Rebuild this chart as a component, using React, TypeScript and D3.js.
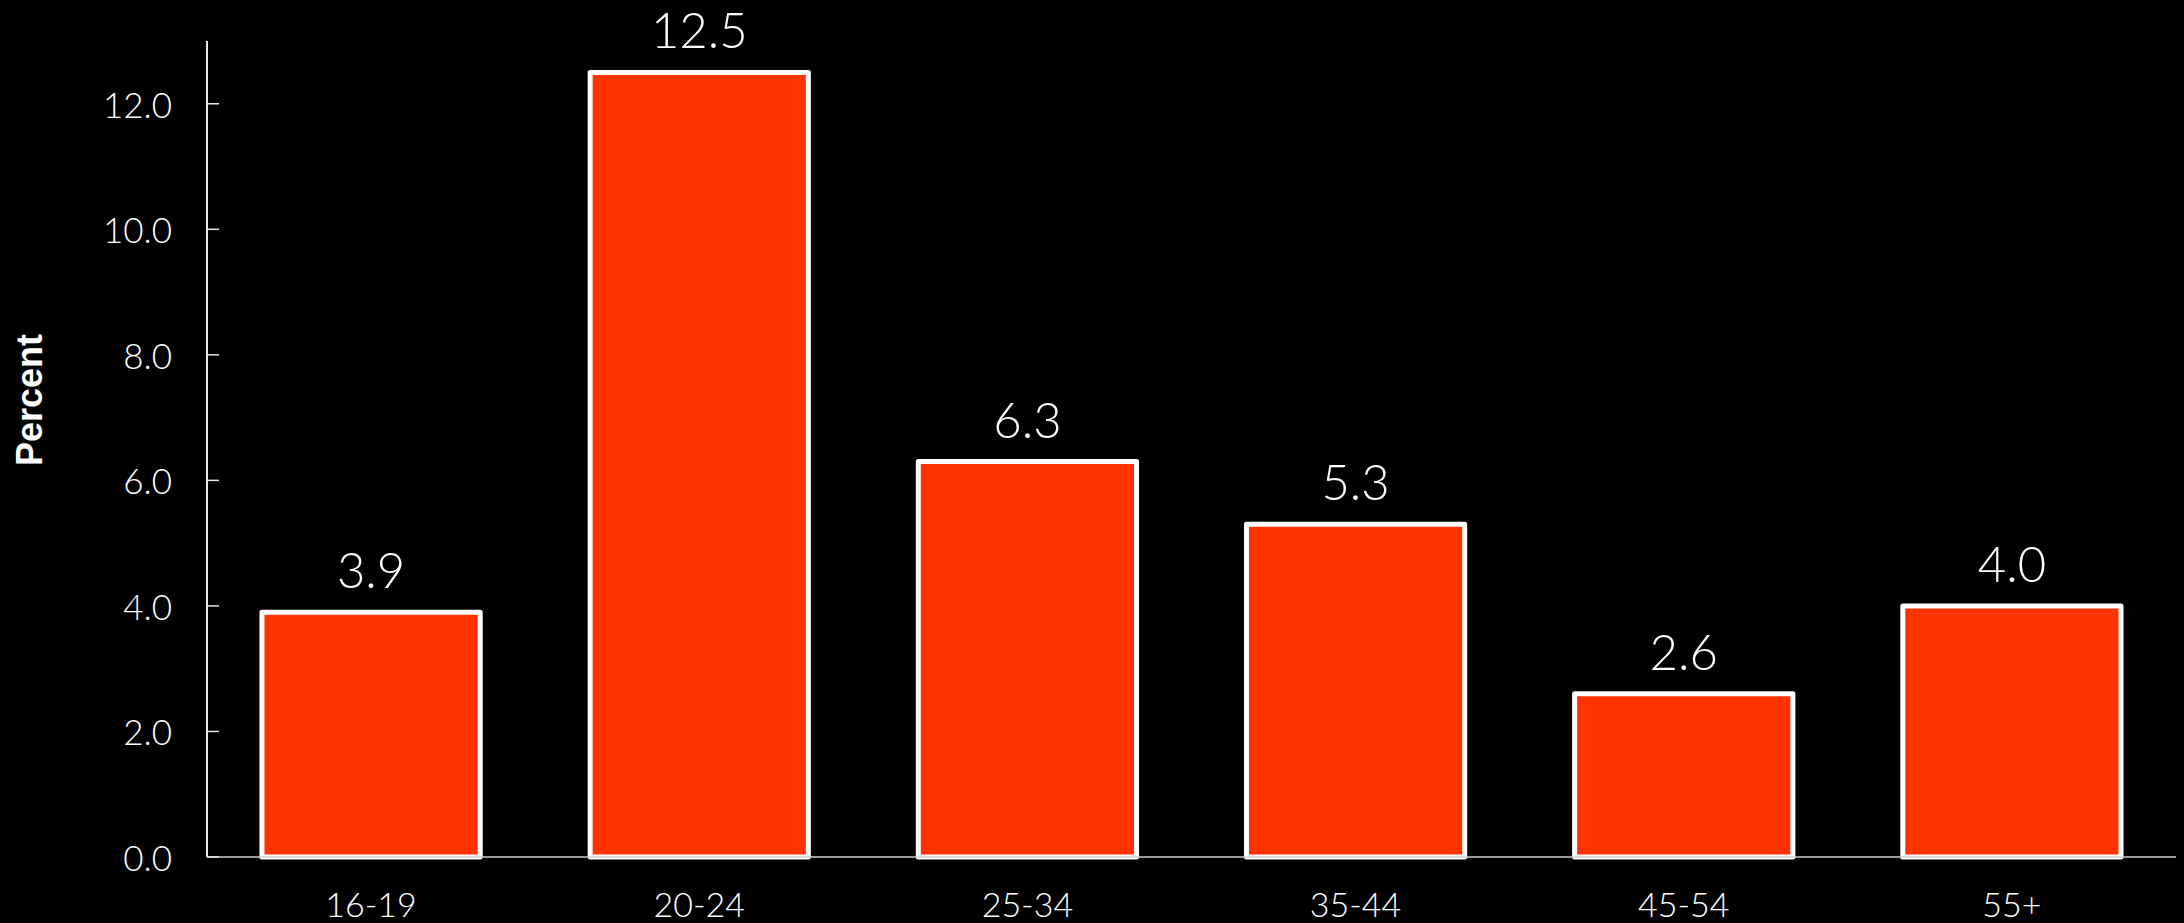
import React from "react";
import * as d3 from "d3";

const categories = ["16-19", "20-24", "25-34", "35-44", "45-54", "55+"];
const values = [3.9, 12.5, 6.3, 5.3, 2.6, 4.0];
const yTicks = [0, 2, 4, 6, 8, 10, 12];
const yLabel = "Percent";

const W = 2184;
const H = 923;
const FONT = "Lato, 'Open Sans', sans-serif";

export default function App() {
  const x = d3
    .scaleBand<string>()
    .domain(categories)
    .range([207, 2176])
    .paddingInner(0.335)
    .paddingOuter(0.1675);
  const y = d3.scaleLinear().domain([0, 13]).range([857, 41]);
  const bw = x.bandwidth();

  return (
    <svg
      width={W}
      height={H}
      style={{ position: "absolute", left: 0, top: 0, display: "block" }}
    >
      <rect x={0} y={0} width={W} height={H} fill="#000" />
      {/* bars */}
      {categories.map((c, i) => (
        <rect
          key={c}
          x={x(c)!}
          y={y(values[i])}
          width={bw}
          height={y(0) - y(values[i])}
          fill="#FF3300"
          stroke="#fff"
          strokeWidth={5}
          strokeLinejoin="round"
        />
      ))}
      {/* x axis line */}
      <line x1={207} x2={2176} y1={y(0)} y2={y(0)} stroke="#cfcfcf" strokeWidth={1.5} />
      {/* y axis */}
      <line x1={207} x2={207} y1={y(13)} y2={y(0)} stroke="#e8e8e8" strokeWidth={2} />
      {yTicks.map((t) => (
        <g key={t}>
          <line x1={207} x2={219} y1={y(t)} y2={y(t)} stroke="#e8e8e8" strokeWidth={1.5} />
          <text
            x={172}
            y={y(t)}
            textAnchor="end"
            dominantBaseline="central"
            fill="#fff"
            fontFamily={FONT}
            fontWeight={300}
            fontSize={35}
          >
            {d3.format(".1f")(t)}
          </text>
        </g>
      ))}
      {/* value labels */}
      {categories.map((c, i) => (
        <text
          key={"v" + c}
          x={x(c)! + bw / 2}
          y={y(values[i]) - 24}
          textAnchor="middle"
          fill="#fff"
          fontFamily={FONT}
          fontWeight={300}
          fontSize={49}
        >
          {d3.format(".1f")(values[i])}
        </text>
      ))}
      {/* category labels */}
      {categories.map((c) => (
        <text
          key={"c" + c}
          x={x(c)! + bw / 2}
          y={917}
          textAnchor="middle"
          fill="#fff"
          fontFamily={FONT}
          fontWeight={300}
          fontSize={34}
        >
          {c}
        </text>
      ))}
      {/* y label */}
      <text
        transform={`translate(42, 400) rotate(-90)`}
        textAnchor="middle"
        fill="#fff"
        fontFamily="'Liberation Sans', Arial, sans-serif"
        fontWeight="bold"
        fontSize={36}
      >
        {yLabel}
      </text>
    </svg>
  );
}
